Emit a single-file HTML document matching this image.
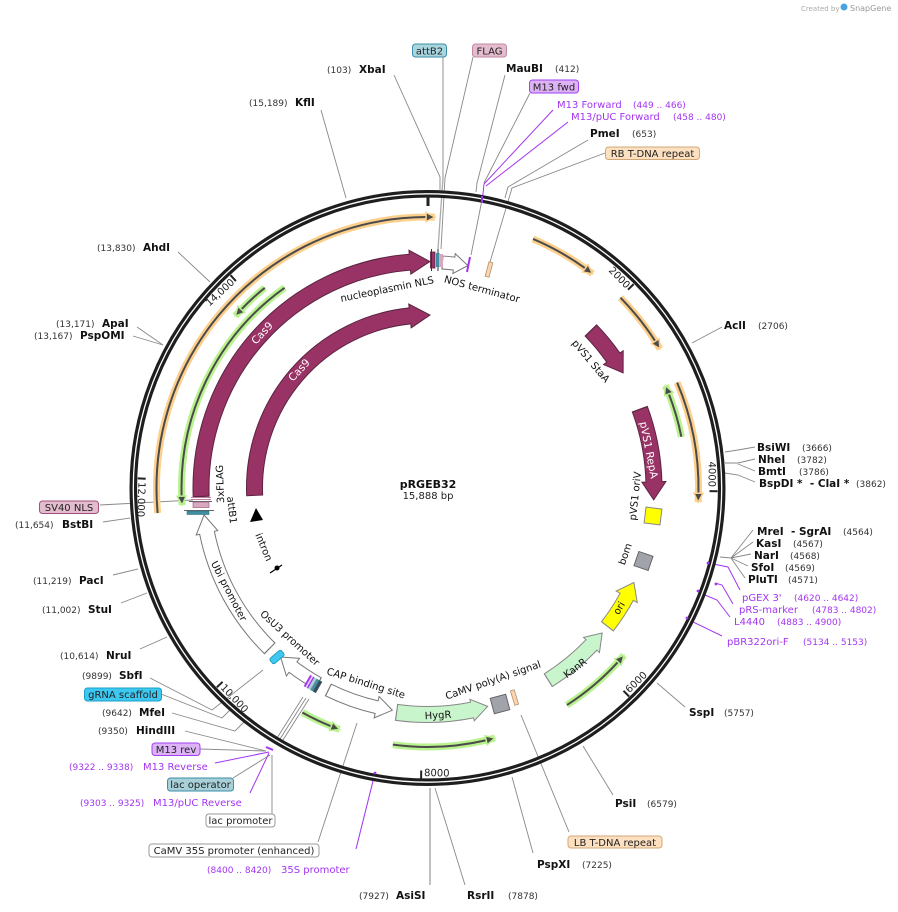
<!DOCTYPE html>
<html><head><meta charset="utf-8">
<style>
html,body{margin:0;padding:0;background:#fff;}
svg{display:block;font-family:"DejaVu Sans","Liberation Sans",sans-serif;}
.e{font-weight:bold;font-size:10.5px;fill:#111;}
.n{font-size:9px;fill:#333;}
.p{font-size:10px;fill:#a335f0;}
.pn{font-size:9px;fill:#a335f0;}
.f{font-size:10px;fill:#111;}
.w{font-size:10.5px;fill:#fff;}
.bx{font-size:10px;fill:#222;}
.l{stroke:#888;stroke-width:0.9;fill:none;}
.pl{stroke:#a335f0;stroke-width:1;fill:none;}
circle.a{fill:none;}
</style></head><body>
<svg width="898" height="912" viewBox="0 0 898 912" xmlns="http://www.w3.org/2000/svg">
<rect width="898" height="912" fill="#fff"/>

<!-- watermark -->
<text x="801" y="11" font-size="7" fill="#aaa">Created by</text>
<circle cx="844" cy="7" r="3.5" fill="#4aa3df"/>
<text x="850" y="11" font-size="8" fill="#999">SnapGene</text>

<!-- restriction / feature lines -->
<g class="l">
<path d="M321,110 L346,198"/>
<path d="M394,75 L440,177 L440,190"/>
<path d="M443,57 L443,178 L438,249" stroke="#aaa" stroke-width="1.3"/>
<path d="M473,57 L445,178 L441,249"/>
<path d="M505,75 L477,183 L476,192"/>
<path d="M530,93 L484,183"/>
<path d="M482,200 L471,255"/>
<path d="M588,140 L508,187 L505,198"/>
<path d="M605,153 L512,188 L490,262"/>
<path d="M722,327 L692,343"/>
<path d="M755,447 L738,450 L725,452"/>
<path d="M755,459 L738,463 L725,463"/>
<path d="M755,471 L738,464"/>
<path d="M755,482 L738,475 L725,473"/>
<path d="M720,557 L731,558 L753,530 M731,558 L753,542 M731,558 L751,554 M731,558 L748,566 M731,558 L745,578"/>
<path d="M657,683 L685,707"/>
<path d="M583,746 L613,795"/>
<path d="M569,832 L521,715"/>
<path d="M533,853 L512,777"/>
<path d="M465,885 L435,788"/>
<path d="M430,885 L430,788" stroke="#aaa" stroke-width="1.5"/>
<path d="M318,842 L357,723"/>
<path d="M272,814 L272,755"/>
<path d="M233,778 L270,755"/>
<path d="M200,749 L266,751"/>
<path d="M185,731 L266,751"/>
<path d="M172,713 L235,731 L244,722"/>
<path d="M161,694 L222,718 L233,707"/>
<path d="M150,678 L212,710 L263,670"/>
<path d="M303,697 L277,738 M306,698 L280,739 M309,699 L283,740"/>
<path d="M140,649 L167,637"/>
<path d="M121,603 L147,593"/>
<path d="M113,575 L138,569"/>
<path d="M103,522 L130,518"/>
<path d="M100,505 L193,500"/>
<path d="M137,327 L163,345"/>
<path d="M133,336 L163,345"/>
<path d="M178,252 L210,282"/>
</g>
<g class="pl">
<path d="M553,110 L484,184 L482,203"/>
<path d="M568,122 L486,186"/>
<path d="M215,763 L269,752"/>
<path d="M250,793 L269,753"/>
<path d="M356,849 L375,773"/>
<path d="M740,590 L728,567 L708,563"/>
<path d="M733,604 L722,585 L715,583"/>
<path d="M730,617 L717,600 L705,595 L698,591"/>
<path d="M722,636 L693,622 L687,618"/>
</g>

<!-- ring -->
<circle class="a" cx="427.5" cy="488" r="294.2" stroke="#1e1e1e" stroke-width="7.6"/>
<circle class="a" cx="427.5" cy="488" r="294.2" stroke="#fff" stroke-width="1.3"/>

<!-- primer marks -->
<g fill="#a335f0">
<rect x="481" y="196" width="2" height="7"/>
<circle cx="708" cy="563" r="1.4"/>
<circle cx="716" cy="584" r="1.4"/>
<circle cx="698" cy="591" r="1.4"/>
<circle cx="687" cy="618" r="1.4"/>
<circle cx="375" cy="773" r="1.4"/>
</g>
<line x1="266" y1="747" x2="273" y2="750" stroke="#a335f0" stroke-width="2"/>

<!-- ticks -->
<g stroke="#222" stroke-width="2">
<line x1="428" y1="196" x2="428" y2="206" stroke-width="3"/>
<line x1="633.7" y1="284.1" x2="628" y2="289.7"/>
<line x1="717.5" y1="491.2" x2="709.5" y2="491.1"/>
<line x1="629.1" y1="696.5" x2="623.5" y2="690.8"/>
<line x1="421.1" y1="778.5" x2="421.2" y2="770.5"/>
<line x1="216.8" y1="687.3" x2="222.6" y2="681.8"/>
<line x1="137.7" y1="478.4" x2="145.7" y2="478.7"/>
<line x1="230.5" y1="275.2" x2="235.9" y2="281.1"/>
</g>
<g font-size="10" fill="#222">
<text x="626" y="289" text-anchor="end" transform="rotate(45.3 626 289)">2000</text>
<text x="708.5" y="487" text-anchor="end" transform="rotate(90.6 708.5 487)">4000</text>
<text x="629.4" y="693.4" transform="rotate(-44 629.4 693.4)">6000</text>
<text x="424" y="776" transform="rotate(1.3 424 776)">8000</text>
<text x="220" y="688" transform="rotate(46.6 220 688)">10,000</text>
<text x="138.5" y="482" transform="rotate(91.9 138.5 482)">12,000</text>
<text x="235" y="283" text-anchor="end" transform="rotate(-42.8 235 283)">14,000</text>
</g>

<!-- ORFs -->
<g>
<circle class="a" cx="427.5" cy="488" r="271" stroke="#fcd08c" stroke-width="7" pathLength="360" stroke-dasharray="96.9 400" transform="rotate(174.7 427.5 488)"/>
<circle class="a" cx="427.5" cy="488" r="271" stroke="#4b4b4b" stroke-width="2" pathLength="360" stroke-dasharray="95 400" transform="rotate(174.7 427.5 488)"/>
<polygon points="427.5,212.5 427.5,221.5 436.5,217.15" fill="#4b4b4b" stroke="#fcd08c" stroke-width="1.5" transform="rotate(359.7 427.5 488)"/>

<circle class="a" cx="427.5" cy="488" r="270.5" stroke="#fcd08c" stroke-width="7" pathLength="360" stroke-dasharray="14.64 400" transform="rotate(-67.04 427.5 488)"/>
<circle class="a" cx="427.5" cy="488" r="270.5" stroke="#4b4b4b" stroke-width="2" pathLength="360" stroke-dasharray="12.74 400" transform="rotate(-67.04 427.5 488)"/>
<polygon points="427.5,213 427.5,222 436.5,217.65" fill="#4b4b4b" stroke="#fcd08c" stroke-width="1.5" transform="rotate(35.7 427.5 488)"/>

<circle class="a" cx="427.5" cy="488" r="271" stroke="#fcd08c" stroke-width="7" pathLength="360" stroke-dasharray="13.7 400" transform="rotate(-44.6 427.5 488)"/>
<circle class="a" cx="427.5" cy="488" r="271" stroke="#4b4b4b" stroke-width="2" pathLength="360" stroke-dasharray="11.8 400" transform="rotate(-44.6 427.5 488)"/>
<polygon points="427.5,212.5 427.5,221.5 436.5,217.15" fill="#4b4b4b" stroke="#fcd08c" stroke-width="1.5" transform="rotate(57.2 427.5 488)"/>

<circle class="a" cx="427.5" cy="488" r="271" stroke="#fcd08c" stroke-width="7" pathLength="360" stroke-dasharray="25.9 400" transform="rotate(-22.9 427.5 488)"/>
<circle class="a" cx="427.5" cy="488" r="271" stroke="#4b4b4b" stroke-width="2" pathLength="360" stroke-dasharray="24 400" transform="rotate(-22.9 427.5 488)"/>
<polygon points="427.5,212.5 427.5,221.5 436.5,217.15" fill="#4b4b4b" stroke="#fcd08c" stroke-width="1.5" transform="rotate(91.1 427.5 488)"/>

<circle class="a" cx="427.5" cy="488" r="258" stroke="#b9f28e" stroke-width="7" pathLength="360" stroke-dasharray="9.1 400" transform="rotate(221.8 427.5 488)"/>
<circle class="a" cx="427.5" cy="488" r="258" stroke="#4b4b4b" stroke-width="2" pathLength="360" stroke-dasharray="7.1 400" transform="rotate(223.8 427.5 488)"/>
<polygon points="427.5,225.5 427.5,234.5 418.5,230.15" fill="#4b4b4b" stroke="#b9f28e" stroke-width="1.5" transform="rotate(313.8 427.5 488)"/>

<circle class="a" cx="427.5" cy="488" r="246" stroke="#b9f28e" stroke-width="7" pathLength="360" stroke-dasharray="58.5 400" transform="rotate(176 427.5 488)"/>
<circle class="a" cx="427.5" cy="488" r="246" stroke="#4b4b4b" stroke-width="2" pathLength="360" stroke-dasharray="56.4 400" transform="rotate(178.1 427.5 488)"/>
<polygon points="427.5,237.5 427.5,246.5 418.5,242.16" fill="#4b4b4b" stroke="#b9f28e" stroke-width="1.5" transform="rotate(268.1 427.5 488)"/>

<circle class="a" cx="427.5" cy="488" r="259" stroke="#b9f28e" stroke-width="7" pathLength="360" stroke-dasharray="11.9 400" transform="rotate(-23.3 427.5 488)"/>
<circle class="a" cx="427.5" cy="488" r="259" stroke="#4b4b4b" stroke-width="2" pathLength="360" stroke-dasharray="9.9 400" transform="rotate(-21.3 427.5 488)"/>
<polygon points="427.5,224.5 427.5,233.5 418.5,229.15" fill="#4b4b4b" stroke="#b9f28e" stroke-width="1.5" transform="rotate(68.7 427.5 488)"/>

<circle class="a" cx="427.5" cy="488" r="257" stroke="#b9f28e" stroke-width="7" pathLength="360" stroke-dasharray="9.15 400" transform="rotate(110 427.5 488)"/>
<circle class="a" cx="427.5" cy="488" r="257" stroke="#4b4b4b" stroke-width="2" pathLength="360" stroke-dasharray="7.15 400" transform="rotate(112 427.5 488)"/>
<polygon points="427.5,226.5 427.5,235.5 418.5,231.15" fill="#4b4b4b" stroke="#b9f28e" stroke-width="1.5" transform="rotate(202 427.5 488)"/>

<circle class="a" cx="427.5" cy="488" r="259" stroke="#b9f28e" stroke-width="7" pathLength="360" stroke-dasharray="22.8 400" transform="rotate(74.9 427.5 488)"/>
<circle class="a" cx="427.5" cy="488" r="259" stroke="#4b4b4b" stroke-width="2" pathLength="360" stroke-dasharray="20.8 400" transform="rotate(76.9 427.5 488)"/>
<polygon points="427.5,224.5 427.5,233.5 418.5,229.15" fill="#4b4b4b" stroke="#b9f28e" stroke-width="1.5" transform="rotate(166.9 427.5 488)"/>

<circle class="a" cx="427.5" cy="488" r="258" stroke="#b9f28e" stroke-width="7" pathLength="360" stroke-dasharray="16.9 400" transform="rotate(40.4 427.5 488)"/>
<circle class="a" cx="427.5" cy="488" r="258" stroke="#4b4b4b" stroke-width="2" pathLength="360" stroke-dasharray="14.9 400" transform="rotate(42.4 427.5 488)"/>
<polygon points="427.5,225.5 427.5,234.5 418.5,230.15" fill="#4b4b4b" stroke="#b9f28e" stroke-width="1.5" transform="rotate(132.4 427.5 488)"/>
</g>

<!-- Cas9 outer -->
<circle class="a" cx="427.5" cy="488" r="226.5" stroke="#5b2440" stroke-width="17" pathLength="360" stroke-dasharray="87.84 400" transform="rotate(177.7 427.5 488)"/>
<polygon points="427.5,249.5 427.5,273.5 447.5,262.4" fill="#993366" stroke="#5b2440" stroke-width="1" transform="rotate(355.54 427.5 488)"/>
<circle class="a" cx="427.5" cy="488" r="226.5" stroke="#993366" stroke-width="15" pathLength="360" stroke-dasharray="87.84 400" transform="rotate(178 427.5 488)"/>
<!-- Cas9 inner -->
<circle class="a" cx="427.5" cy="488" r="173" stroke="#5b2440" stroke-width="17" pathLength="360" stroke-dasharray="86.78 400" transform="rotate(177.4 427.5 488)"/>
<polygon points="427.5,303 427.5,327 447.5,316.2" fill="#993366" stroke="#5b2440" stroke-width="1" transform="rotate(354.18 427.5 488)"/>
<circle class="a" cx="427.5" cy="488" r="173" stroke="#993366" stroke-width="15" pathLength="360" stroke-dasharray="86.78 400" transform="rotate(177.7 427.5 488)"/>

<!-- Ubi promoter -->
<circle class="a" cx="427.5" cy="488" r="225" stroke="#777" stroke-width="16" pathLength="360" stroke-dasharray="34.12 400" transform="rotate(134.4 427.5 488)"/>
<polygon points="427.5,252 427.5,274 445.5,263.7" fill="#fff" stroke="#777" stroke-width="1" transform="rotate(258.52 427.5 488)"/>
<circle class="a" cx="427.5" cy="488" r="225" stroke="#fff" stroke-width="14" pathLength="360" stroke-dasharray="34.12 400" transform="rotate(134.7 427.5 488)"/>
<!-- OsU3 promoter -->
<circle class="a" cx="427.5" cy="488" r="224" stroke="#777" stroke-width="14" pathLength="360" stroke-dasharray="7.8 400" transform="rotate(119.1 427.5 488)"/>
<polygon points="427.5,253 427.5,275 443.5,264.6" fill="#fff" stroke="#777" stroke-width="1" transform="rotate(216.9 427.5 488)"/>
<circle class="a" cx="427.5" cy="488" r="224" stroke="#fff" stroke-width="12" pathLength="360" stroke-dasharray="7.8 400" transform="rotate(119.4 427.5 488)"/>
<!-- CAP / 35S arrow -->
<circle class="a" cx="427.5" cy="488" r="225" stroke="#777" stroke-width="14" pathLength="360" stroke-dasharray="13.23 400" transform="rotate(103.07 427.5 488)"/>
<polygon points="427.5,252 427.5,274 411.5,263.57" fill="#fff" stroke="#777" stroke-width="1" transform="rotate(193.07 427.5 488)"/>
<circle class="a" cx="427.5" cy="488" r="225" stroke="#fff" stroke-width="12" pathLength="360" stroke-dasharray="13.23 400" transform="rotate(102.77 427.5 488)"/>
<!-- HygR -->
<circle class="a" cx="427.5" cy="488" r="226.5" stroke="#888" stroke-width="17" pathLength="360" stroke-dasharray="19.35 400" transform="rotate(78.65 427.5 488)"/>
<polygon points="427.5,250.5 427.5,272.5 411.5,262.07" fill="#c9f5cc" stroke="#888" stroke-width="1" transform="rotate(168.65 427.5 488)"/>
<circle class="a" cx="427.5" cy="488" r="226.5" stroke="#c9f5cc" stroke-width="15" pathLength="360" stroke-dasharray="19.35 400" transform="rotate(78.35 427.5 488)"/>
<!-- KanR -->
<circle class="a" cx="427.5" cy="488" r="227" stroke="#888" stroke-width="16" pathLength="360" stroke-dasharray="14.26 400" transform="rotate(43.74 427.5 488)"/>
<polygon points="427.5,250 427.5,272 411.5,261.56" fill="#c9f5cc" stroke="#888" stroke-width="1" transform="rotate(133.74 427.5 488)"/>
<circle class="a" cx="427.5" cy="488" r="227" stroke="#c9f5cc" stroke-width="14" pathLength="360" stroke-dasharray="14.26 400" transform="rotate(43.44 427.5 488)"/>
<!-- ori -->
<circle class="a" cx="427.5" cy="488" r="227" stroke="#888" stroke-width="16" pathLength="360" stroke-dasharray="9.06 400" transform="rotate(28.64 427.5 488)"/>
<polygon points="427.5,249 427.5,273 411.5,261.56" fill="#ffff00" stroke="#888" stroke-width="1" transform="rotate(118.64 427.5 488)"/>
<circle class="a" cx="427.5" cy="488" r="227" stroke="#ffff00" stroke-width="14" pathLength="360" stroke-dasharray="9.06 400" transform="rotate(28.34 427.5 488)"/>
<!-- pVS1 RepA -->
<circle class="a" cx="427.5" cy="488" r="226.5" stroke="#5b2440" stroke-width="17" pathLength="360" stroke-dasharray="18.95 400" transform="rotate(-20.5 427.5 488)"/>
<polygon points="427.5,249.5 427.5,273.5 445.5,262.2" fill="#993366" stroke="#5b2440" stroke-width="1" transform="rotate(88.45 427.5 488)"/>
<circle class="a" cx="427.5" cy="488" r="226.5" stroke="#993366" stroke-width="15" pathLength="360" stroke-dasharray="18.95 400" transform="rotate(-20.2 427.5 488)"/>
<!-- pVS1 StaA -->
<circle class="a" cx="427.5" cy="488" r="227" stroke="#5b2440" stroke-width="17" pathLength="360" stroke-dasharray="9.06 400" transform="rotate(-44.1 427.5 488)"/>
<polygon points="427.5,249 427.5,273 445.5,261.71" fill="#993366" stroke="#5b2440" stroke-width="1" transform="rotate(54.96 427.5 488)"/>
<circle class="a" cx="427.5" cy="488" r="227" stroke="#993366" stroke-width="15" pathLength="360" stroke-dasharray="9.06 400" transform="rotate(-43.8 427.5 488)"/>
<!-- NOS terminator -->
<circle class="a" cx="427.5" cy="488" r="226" stroke="#777" stroke-width="14" pathLength="360" stroke-dasharray="3.12 400" transform="rotate(-86.37 427.5 488)"/>
<polygon points="427.5,252 427.5,272 441.5,262.4" fill="#fff" stroke="#777" stroke-width="1" transform="rotate(6.75 427.5 488)"/>
<circle class="a" cx="427.5" cy="488" r="226" stroke="#fff" stroke-width="12" pathLength="360" stroke-dasharray="3.12 400" transform="rotate(-86.07 427.5 488)"/>

<!-- small features top -->
<rect x="430.5" y="252" width="4.5" height="16" fill="#993366" stroke="#5b2440" stroke-width="0.8"/>
<line x1="431.5" y1="249" x2="431.5" y2="271" stroke="#333" stroke-width="1"/>
<line x1="438" y1="249" x2="438" y2="271" stroke="#333" stroke-width="1"/>
<rect x="436" y="253" width="3.5" height="14" fill="#3f8fa3"/>
<rect x="440" y="254" width="3" height="13" fill="#d9a7bf"/>
<line x1="470" y1="257" x2="467" y2="272" stroke="#a335f0" stroke-width="2"/>
<rect x="-2" y="-7.5" width="4" height="15" fill="#f8d6b0" stroke="#b89070" stroke-width="0.8" transform="translate(489,269.5) rotate(15)"/>

<!-- right small features -->
<rect x="-8" y="-8" width="16" height="16" fill="#ffff00" stroke="#888" transform="translate(653,516) rotate(7)"/>
<rect x="-7.5" y="-7.5" width="15" height="15" fill="#a0a4aa" stroke="#666" transform="translate(643.5,561) rotate(19)"/>
<rect x="-8" y="-8" width="16" height="16" fill="#a0a4aa" stroke="#666" transform="translate(500,704) rotate(-15)"/>
<rect x="-2" y="-7.5" width="4" height="15" fill="#f8d6b0" stroke="#b89070" stroke-width="0.8" transform="translate(514.5,697.5) rotate(-17)"/>

<!-- bottom-left small features -->
<rect x="-7.5" y="-3.5" width="15" height="7" rx="2" fill="#3cc8f0" stroke="#1a8fb0" stroke-width="0.8" transform="translate(277,657) rotate(-41)"/>
<g transform="translate(313,684) rotate(30)">
<rect x="-7" y="-6.5" width="2" height="13" fill="#a335f0"/>
<rect x="-5" y="-6.5" width="1.5" height="13" fill="#e8d0f8"/>
<rect x="-3.5" y="-6.5" width="1.5" height="13" fill="#a335f0"/>
<rect x="-2" y="-6.5" width="2.5" height="13" fill="#a8d0d8"/>
<rect x="0.5" y="-6.5" width="3" height="13" fill="#4a8fa0"/>
<rect x="3.5" y="-6.5" width="3.5" height="13" fill="#345060"/>
</g>

<!-- 3xFLAG / SV40 / attB1 -->
<line x1="191" y1="497.5" x2="211" y2="497.5" stroke="#c080a0" stroke-width="1"/>
<line x1="191" y1="499.5" x2="211" y2="499.5" stroke="#c080a0" stroke-width="1"/>
<line x1="189" y1="501.5" x2="212" y2="501.5" stroke="#333" stroke-width="0.8"/>
<rect x="193" y="502" width="16" height="5.5" fill="#d9a7bf" stroke="#8a5070" stroke-width="0.6"/>
<line x1="184" y1="510.5" x2="214" y2="510.5" stroke="#333" stroke-width="0.8"/>
<rect x="187" y="511" width="22" height="3.5" fill="#3f8fa3" stroke="#24606e" stroke-width="0.5"/>

<!-- intron -->
<polygon points="256,508 250,522 263,520" fill="#000"/>
<line x1="270" y1="573" x2="282" y2="565" stroke="#000" stroke-width="1.2"/>
<circle cx="277" cy="568" r="2.5" fill="#000"/>

<!-- feature labels -->
<g class="f" text-anchor="middle">
<text x="387" y="289" dy="0.35em" transform="rotate(-11.5 387 289)">nucleoplasmin NLS</text>
<text x="482" y="289" dy="0.35em" transform="rotate(15.3 482 289)">NOS terminator</text>
<text x="591" y="361" dy="0.35em" transform="rotate(50 591 361)">pVS1 StaA</text>
<text x="635" y="496" dy="0.35em" transform="rotate(-84 635 496)">pVS1 oriV</text>
<text x="625" y="554" dy="0.35em" transform="rotate(-71 625 554)">bom</text>
<text x="619" y="608" dy="0.35em" transform="rotate(-59 619 608)">ori</text>
<text x="575" y="668" dy="0.35em" transform="rotate(-37 575 668)">KanR</text>
<text x="493" y="680" dy="0.35em" transform="rotate(-19 493 680)">CaMV poly(A) signal</text>
<text x="438" y="715" dy="0.35em" transform="rotate(-3 438 715)">HygR</text>
<text x="366" y="683" dy="0.35em" transform="rotate(17.5 366 683)">CAP binding site</text>
<text x="290" y="638" dy="0.35em" transform="rotate(42.5 290 638)">OsU3 promoter</text>
<text x="229" y="591" dy="0.35em" transform="rotate(62.6 229 591)">Ubi promoter</text>
<text x="264" y="547" dy="0.35em" transform="rotate(67.5 264 547)">intron</text>
<text x="232" y="510" dy="0.35em" transform="rotate(83.5 232 510)">attB1</text>
<text x="220" y="484" dy="0.35em" transform="rotate(-92 220 484)">3xFLAG</text>
</g>
<g class="w" text-anchor="middle">
<text x="262" y="333" dy="0.35em" transform="rotate(-47 262 333)">Cas9</text>
<text x="299" y="370" dy="0.35em" transform="rotate(-47.4 299 370)">Cas9</text>
<text x="649" y="450" dy="0.35em" transform="rotate(79 649 450)">pVS1 RepA</text>
</g>

<!-- center -->
<text x="428" y="488" text-anchor="middle" font-weight="bold" font-size="11" fill="#111">pRGEB32</text>
<text x="428" y="499" text-anchor="middle" font-size="10" fill="#222">15,888 bp</text>

<!-- boxes -->
<rect x="412.5" y="44" width="34" height="13" rx="3" fill="#a9d5df" stroke="#3b8ea5"/>
<text class="bx" x="429.5" y="54.5" text-anchor="middle">attB2</text>
<rect x="472.5" y="44" width="34" height="13" rx="3" fill="#e3bccd" stroke="#c08aa4"/>
<text class="bx" x="489.5" y="54.5" text-anchor="middle">FLAG</text>
<rect x="529.5" y="80" width="49" height="13" rx="3" fill="#ddb3f5" stroke="#a040f0"/>
<text class="bx" x="554" y="90.5" text-anchor="middle">M13 fwd</text>
<rect x="605.5" y="147" width="94" height="12.5" rx="3" fill="#fde0c0" stroke="#d2a879"/>
<text class="bx" x="652.5" y="157" text-anchor="middle">RB T-DNA repeat</text>
<rect x="568" y="836" width="94" height="12" rx="3" fill="#fde0c0" stroke="#d2a879"/>
<text class="bx" x="615" y="846" text-anchor="middle">LB T-DNA repeat</text>
<rect x="149" y="844" width="170" height="13" rx="3" fill="#fff" stroke="#999"/>
<text class="bx" x="234" y="854" text-anchor="middle">CaMV 35S promoter (enhanced)</text>
<rect x="206" y="814" width="69" height="13" rx="3" fill="#fff" stroke="#999"/>
<text class="bx" x="240.5" y="824" text-anchor="middle">lac promoter</text>
<rect x="167.5" y="778" width="66" height="13" rx="3" fill="#a8d0d8" stroke="#3b8ea5"/>
<text class="bx" x="200.5" y="788" text-anchor="middle">lac operator</text>
<rect x="152" y="743" width="48" height="12.5" rx="3" fill="#ddb3f5" stroke="#a040f0"/>
<text class="bx" x="176" y="753" text-anchor="middle">M13 rev</text>
<rect x="84.5" y="688" width="77" height="13" rx="3" fill="#3cc8f0" stroke="#1a9fc8"/>
<text class="bx" x="123" y="698" text-anchor="middle">gRNA scaffold</text>
<rect x="39.5" y="501" width="59" height="12.5" rx="3" fill="#e3bccd" stroke="#a0507a"/>
<text class="bx" x="69" y="511" text-anchor="middle">SV40 NLS</text>

<!-- enzyme labels -->
<text class="n" x="249" y="106">(15,189)</text><text class="e" x="295" y="106">KflI</text>
<text class="n" x="327" y="73">(103)</text><text class="e" x="359" y="73">XbaI</text>
<text class="e" x="506" y="72">MauBI</text><text class="n" x="555" y="72">(412)</text>
<text class="p" x="557" y="108">M13 Forward</text><text class="pn" x="633" y="108">(449 .. 466)</text>
<text class="p" x="571" y="120">M13/pUC Forward</text><text class="pn" x="673" y="120">(458 .. 480)</text>
<text class="e" x="590" y="137">PmeI</text><text class="n" x="632" y="137">(653)</text>
<text class="e" x="724" y="329">AclI</text><text class="n" x="758" y="329">(2706)</text>
<text class="e" x="757" y="451">BsiWI</text><text class="n" x="802" y="451">(3666)</text>
<text class="e" x="758" y="463">NheI</text><text class="n" x="797" y="463">(3782)</text>
<text class="e" x="758" y="475">BmtI</text><text class="n" x="799" y="475">(3786)</text>
<text class="e" x="759" y="487" xml:space="preserve">BspDI *  - ClaI *</text><text class="n" x="856" y="487">(3862)</text>
<text class="e" x="757" y="535" xml:space="preserve">MreI  - SgrAI</text><text class="n" x="843" y="535">(4564)</text>
<text class="e" x="756" y="547">KasI</text><text class="n" x="793" y="547">(4567)</text>
<text class="e" x="754" y="559">NarI</text><text class="n" x="790" y="559">(4568)</text>
<text class="e" x="751" y="571">SfoI</text><text class="n" x="785" y="571">(4569)</text>
<text class="e" x="748" y="583">PluTI</text><text class="n" x="788" y="583">(4571)</text>
<text class="p" x="742" y="601">pGEX 3'</text><text class="pn" x="794" y="601">(4620 .. 4642)</text>
<text class="p" x="739" y="613">pRS-marker</text><text class="pn" x="812" y="613">(4783 .. 4802)</text>
<text class="p" x="734" y="625">L4440</text><text class="pn" x="777" y="625">(4883 .. 4900)</text>
<text class="p" x="727" y="645">pBR322ori-F</text><text class="pn" x="803" y="645">(5134 .. 5153)</text>
<text class="e" x="689" y="716">SspI</text><text class="n" x="724" y="716">(5757)</text>
<text class="e" x="615" y="807">PsiI</text><text class="n" x="647" y="807">(6579)</text>
<text class="e" x="537" y="868">PspXI</text><text class="n" x="582" y="868">(7225)</text>
<text class="e" x="467" y="899">RsrII</text><text class="n" x="508" y="899">(7878)</text>
<text class="n" x="359" y="899">(7927)</text><text class="e" x="396" y="899">AsiSI</text>
<text class="pn" x="207" y="873">(8400 .. 8420)</text><text class="p" x="281" y="873">35S promoter</text>
<text class="pn" x="80" y="806">(9303 .. 9325)</text><text class="p" x="153" y="806">M13/pUC Reverse</text>
<text class="pn" x="69" y="770">(9322 .. 9338)</text><text class="p" x="143" y="770">M13 Reverse</text>
<text class="n" x="98" y="734">(9350)</text><text class="e" x="136" y="734">HindIII</text>
<text class="n" x="102" y="716">(9642)</text><text class="e" x="139" y="716">MfeI</text>
<text class="n" x="82" y="679">(9899)</text><text class="e" x="119" y="679">SbfI</text>
<text class="n" x="60" y="659">(10,614)</text><text class="e" x="106" y="659">NruI</text>
<text class="n" x="42" y="613">(11,002)</text><text class="e" x="88" y="613">StuI</text>
<text class="n" x="33" y="584">(11,219)</text><text class="e" x="79" y="584">PacI</text>
<text class="n" x="15" y="528">(11,654)</text><text class="e" x="62" y="528">BstBI</text>
<text class="n" x="34" y="339">(13,167)</text><text class="e" x="80" y="339">PspOMI</text>
<text class="n" x="56" y="327">(13,171)</text><text class="e" x="102" y="327">ApaI</text>
<text class="n" x="97" y="251">(13,830)</text><text class="e" x="143" y="251">AhdI</text>
</svg>
</body></html>
